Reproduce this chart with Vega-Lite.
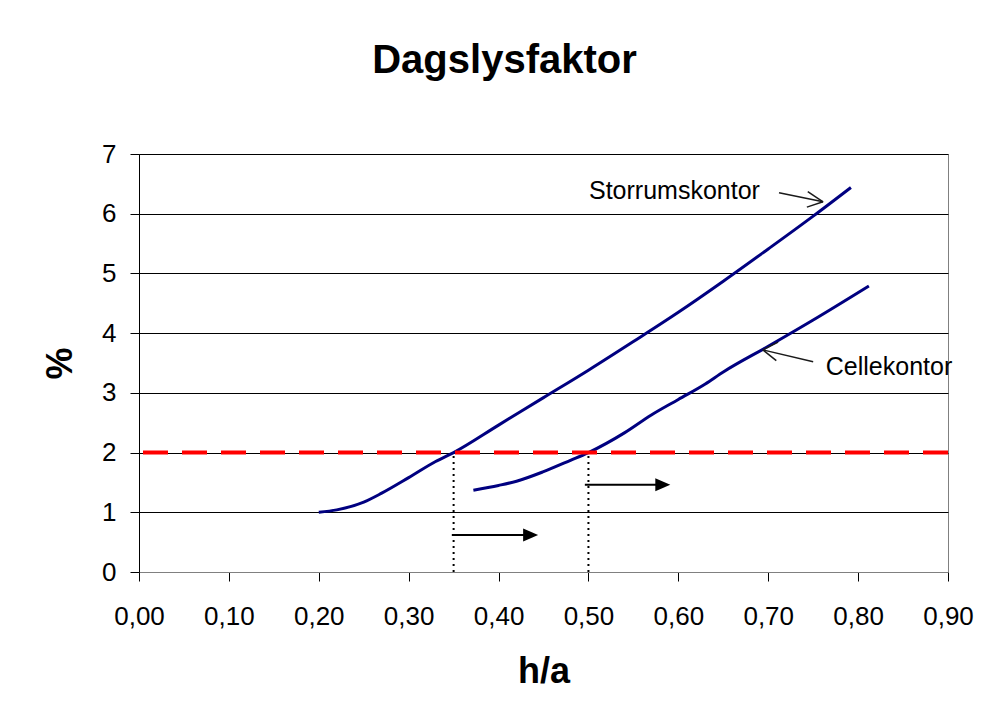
{
  "$schema": "https://vega.github.io/schema/vega-lite/v6.json",
  "autosize": {"type": "none"},
  "width": 809,
  "height": 418,
  "padding": {"left": 139, "top": 154, "right": 33, "bottom": 146},
  "background": "white",
  "config": {
    "font": "Liberation Sans",
    "view": {"stroke": "#808080", "strokeWidth": 1}
  },
  "title": {
    "text": "Dagslysfaktor",
    "font": "Liberation Sans",
    "fontSize": 40,
    "fontWeight": "bold",
    "color": "#000000",
    "anchor": "middle",
    "baseline": "alphabetic",
    "offset": 28,
    "dx": -39
  },
  "datasets": {
    "curves": [
      {"series": "Storrumskontor", "ha": 0.20, "pct": 1.00},
      {"series": "Storrumskontor", "ha": 0.22, "pct": 1.04},
      {"series": "Storrumskontor", "ha": 0.25, "pct": 1.17},
      {"series": "Storrumskontor", "ha": 0.27, "pct": 1.32},
      {"series": "Storrumskontor", "ha": 0.30, "pct": 1.58},
      {"series": "Storrumskontor", "ha": 0.33, "pct": 1.85},
      {"series": "Storrumskontor", "ha": 0.35, "pct": 2.00},
      {"series": "Storrumskontor", "ha": 0.40, "pct": 2.46},
      {"series": "Storrumskontor", "ha": 0.45, "pct": 2.92},
      {"series": "Storrumskontor", "ha": 0.50, "pct": 3.38},
      {"series": "Storrumskontor", "ha": 0.55, "pct": 3.86},
      {"series": "Storrumskontor", "ha": 0.60, "pct": 4.35},
      {"series": "Storrumskontor", "ha": 0.65, "pct": 4.87},
      {"series": "Storrumskontor", "ha": 0.70, "pct": 5.41},
      {"series": "Storrumskontor", "ha": 0.75, "pct": 5.96},
      {"series": "Storrumskontor", "ha": 0.792, "pct": 6.44},
      {"series": "Cellekontor", "ha": 0.372, "pct": 1.37},
      {"series": "Cellekontor", "ha": 0.40, "pct": 1.45},
      {"series": "Cellekontor", "ha": 0.42, "pct": 1.52},
      {"series": "Cellekontor", "ha": 0.45, "pct": 1.68},
      {"series": "Cellekontor", "ha": 0.48, "pct": 1.87},
      {"series": "Cellekontor", "ha": 0.50, "pct": 2.00},
      {"series": "Cellekontor", "ha": 0.54, "pct": 2.33},
      {"series": "Cellekontor", "ha": 0.57, "pct": 2.63},
      {"series": "Cellekontor", "ha": 0.60, "pct": 2.89},
      {"series": "Cellekontor", "ha": 0.63, "pct": 3.15},
      {"series": "Cellekontor", "ha": 0.65, "pct": 3.35},
      {"series": "Cellekontor", "ha": 0.70, "pct": 3.78},
      {"series": "Cellekontor", "ha": 0.75, "pct": 4.22},
      {"series": "Cellekontor", "ha": 0.812, "pct": 4.79}
    ],
    "limit": [{"pct": 2}],
    "drops": [
      {"ha": 0.35, "y0": 0, "y1": 2},
      {"ha": 0.50, "y0": 0, "y1": 2}
    ],
    "shafts": [
      {"x0": 0.348, "x1": 0.436, "y0": 0.62, "y1": 0.62},
      {"x0": 0.496, "x1": 0.583, "y0": 1.46, "y1": 1.46}
    ],
    "heads": [
      {"ha": 0.4357, "pct": 0.62},
      {"ha": 0.5827, "pct": 1.46}
    ],
    "pointers": [
      {"x0": 0.712, "y0": 6.35, "x1": 0.761, "y1": 6.20},
      {"x0": 0.744, "y0": 6.37, "x1": 0.761, "y1": 6.20},
      {"x0": 0.743, "y0": 6.11, "x1": 0.761, "y1": 6.20},
      {"x0": 0.750, "y0": 3.52, "x1": 0.694, "y1": 3.72},
      {"x0": 0.711, "y0": 3.85, "x1": 0.694, "y1": 3.72},
      {"x0": 0.709, "y0": 3.54, "x1": 0.694, "y1": 3.72}
    ],
    "labels": [
      {"ha": 0.5006, "pct": 6.25, "label": "Storrumskontor"},
      {"ha": 0.764, "pct": 3.30, "label": "Cellekontor"}
    ]
  },
  "layer": [
    {
      "data": {"name": "curves"},
      "mark": {"type": "line", "interpolate": "monotone", "strokeWidth": 3, "color": "#000080"},
      "encoding": {
        "x": {
          "field": "ha",
          "type": "quantitative",
          "scale": {"domain": [0, 0.9], "nice": false, "zero": false},
          "axis": {
            "title": "h/a",
            "values": [0, 0.1, 0.2, 0.3, 0.4, 0.5, 0.6, 0.7, 0.8, 0.9],
            "labelExpr": "replace(format(datum.value, '.2f'), '.', ',')",
            "labelFont": "Liberation Sans",
            "labelFontSize": 26,
            "labelColor": "#000000",
            "labelPadding": 22,
            "labelBaseline": "top",
            "labelFlush": false,
            "labelOverlap": false,
            "tickSize": 9,
            "tickColor": "#000000",
            "tickWidth": 1,
            "domainColor": "#808080",
            "domainWidth": 1,
            "grid": false,
            "titleFont": "Liberation Sans",
            "titleFontSize": 36,
            "titleFontWeight": "bold",
            "titleColor": "#000000",
            "titlePadding": 25
          }
        },
        "y": {
          "field": "pct",
          "type": "quantitative",
          "scale": {"domain": [0, 7], "nice": false},
          "axis": {
            "title": "%",
            "values": [0, 1, 2, 3, 4, 5, 6, 7],
            "format": "d",
            "labelFont": "Liberation Sans",
            "labelFontSize": 26,
            "labelColor": "#000000",
            "labelPadding": 14,
            "labelFlush": false,
            "tickSize": 9,
            "tickColor": "#000000",
            "domainColor": "#000000",
            "domainWidth": 1,
            "grid": true,
            "gridColor": {"condition": {"test": "datum.value === 0", "value": "#808080"}, "value": "#000000"},
            "gridWidth": 1,
            "gridOpacity": 1,
            "titleFont": "Liberation Sans",
            "titleFontSize": 36,
            "titleFontWeight": "bold",
            "titleColor": "#000000",
            "titlePadding": 22
          }
        },
        "detail": {"field": "series"}
      }
    },
    {
      "data": {"name": "limit"},
      "mark": {"type": "rule", "color": "#FF0000", "strokeWidth": 4, "strokeDash": [25, 14]},
      "encoding": {"y": {"field": "pct", "type": "quantitative"}}
    },
    {
      "data": {"name": "drops"},
      "mark": {"type": "rule", "color": "#000000", "strokeWidth": 2, "strokeDash": [2, 4]},
      "encoding": {
        "x": {"field": "ha", "type": "quantitative"},
        "y": {"field": "y0", "type": "quantitative"},
        "y2": {"field": "y1"}
      }
    },
    {
      "data": {"name": "shafts"},
      "mark": {"type": "rule", "color": "#000000", "strokeWidth": 2},
      "encoding": {
        "x": {"field": "x0", "type": "quantitative"},
        "x2": {"field": "x1"},
        "y": {"field": "y0", "type": "quantitative"},
        "y2": {"field": "y1"}
      }
    },
    {
      "data": {"name": "heads"},
      "mark": {"type": "point", "shape": "M-1,-0.87L1,0L-1,0.87Z", "size": 225, "filled": true, "color": "#000000", "opacity": 1},
      "encoding": {
        "x": {"field": "ha", "type": "quantitative"},
        "y": {"field": "pct", "type": "quantitative"}
      }
    },
    {
      "data": {"name": "pointers"},
      "mark": {"type": "rule", "color": "#1a1a1a", "strokeWidth": 1.5},
      "encoding": {
        "x": {"field": "x0", "type": "quantitative"},
        "x2": {"field": "x1"},
        "y": {"field": "y0", "type": "quantitative"},
        "y2": {"field": "y1"}
      }
    },
    {
      "data": {"name": "labels"},
      "mark": {"type": "text", "align": "left", "baseline": "alphabetic", "font": "Liberation Sans", "fontSize": 25, "color": "#000000"},
      "encoding": {
        "x": {"field": "ha", "type": "quantitative"},
        "y": {"field": "pct", "type": "quantitative"},
        "text": {"field": "label"}
      }
    }
  ]
}
